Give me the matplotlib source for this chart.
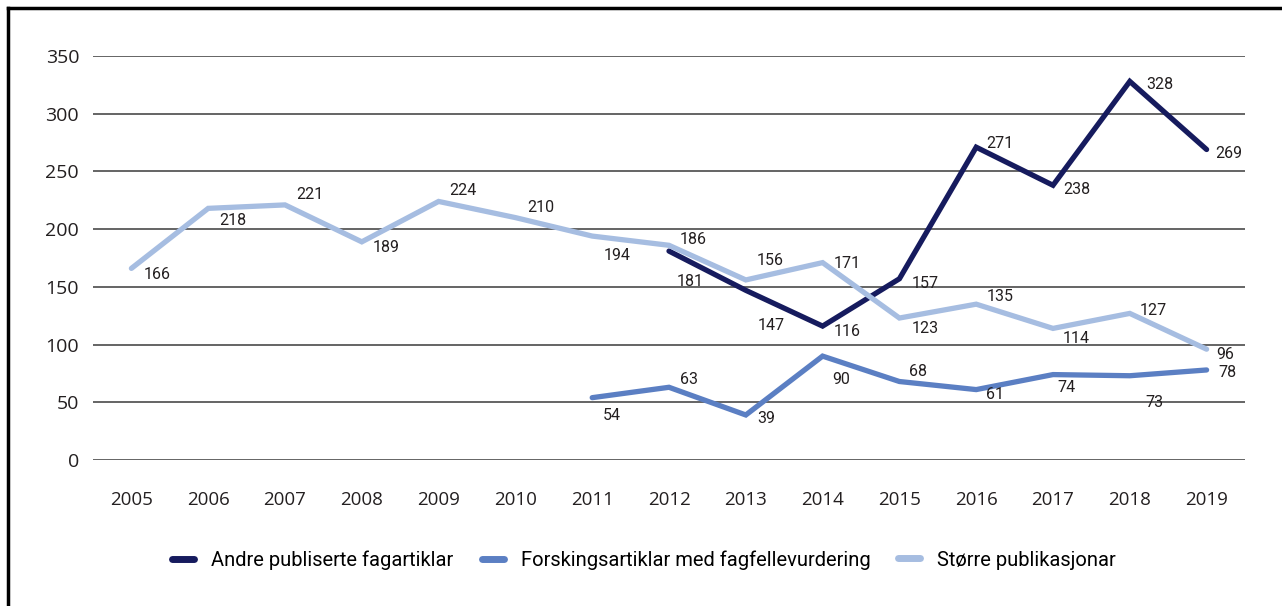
import matplotlib
matplotlib.use("Agg")
import matplotlib.pyplot as plt
from matplotlib.lines import Line2D

plt.rcParams["font.family"] = ["Open Sans", "DejaVu Sans"]

# --- data ---
years = list(range(2005, 2020))

andre_years = [2012, 2013, 2014, 2015, 2016, 2017, 2018, 2019]
andre = [181, 147, 116, 157, 271, 238, 328, 269]

forsking_years = [2011, 2012, 2013, 2014, 2015, 2016, 2017, 2018, 2019]
forsking = [54, 63, 39, 90, 68, 61, 74, 73, 78]

storre_years = years
storre = [166, 218, 221, 189, 224, 210, 194, 186, 156, 171, 123, 135, 114, 127, 96]

labels = ["Andre publiserte fagartiklar",
          "Forskingsartiklar med fagfellevurdering",
          "Større publikasjonar"]

# label offsets (pixels, dx, dy with +dy = up) -- purely placement
andre_off = [(8, -30), (12, -35), (11, -5), (12, -5), (10, 4), (10, -4), (16, -3), (9, -4)]
forsking_off = [(11, -18), (11, 8), (11, -4), (10, -23), (10, 10), (10, -5), (4, -13), (16, -27), (12, -3)]
storre_off = [(12, -6), (11, -12), (11, 10), (11, -6), (11, 11), (12, 10), (11, -19),
              (11, 6), (11, 19), (11, -1), (12, -10), (10, 8), (10, -10), (10, 3), (10, -5)]

DARK = "#161b5e"
MID = "#5b7fc3"
LIGHT = "#a6bde1"
GRID = "#4a4a4a"
INK = "#231f20"

W, H = 1282, 606
fig = plt.figure(figsize=(W / 100, H / 100), dpi=100)
ax = fig.add_axes([93 / W, 1 - 460 / H, (1245 - 93) / W, (460 - 56) / H])

ax.set_xlim(2004.5, 2019.5)
ax.set_ylim(0, 350)
ax.set_yticks(range(0, 351, 50))
ax.set_xticks(years)
ax.grid(axis="y", color=GRID, lw=1.2)
ax.set_axisbelow(True)
for s in ax.spines.values():
    s.set_visible(False)
ax.tick_params(length=0, colors=INK)
ax.tick_params(axis="x", pad=22, labelsize=13.5)
ax.tick_params(axis="y", pad=10, labelsize=14)

series = [
    (andre_years, andre, DARK, andre_off),
    (forsking_years, forsking, MID, forsking_off),
    (storre_years, storre, LIGHT, storre_off),
]
lab_font = ["Roboto", "DejaVu Sans"]
handles = []
for (xs, ys, col, offs), lab in zip(series, labels):
    ln, = ax.plot(xs, ys, color=col, lw=3.8, solid_capstyle="round",
                  solid_joinstyle="miter", label=lab, zorder=3)
    handles.append(ln)
    for x, y, (dx, dy) in zip(xs, ys, offs):
        ax.annotate(str(y), (x, y), xytext=(dx, dy), textcoords="offset pixels",
                    ha="left", va="center", fontsize=11.5, color=INK,
                    family=lab_font, zorder=4)

# legend entries placed one by one to match the reference spacing
legend_x = [172, 482, 898]
for h, lx in zip(handles, legend_x):
    leg = fig.legend(handles=[h], loc="center left",
                     bbox_to_anchor=(lx / W, 1 - 560 / H), frameon=False,
                     borderpad=0, borderaxespad=0, handlelength=1.1,
                     handletextpad=0.85, prop={"family": lab_font, "size": 14.5})
    for hl in leg.get_lines():
        hl.set_linewidth(5)
        hl.set_solid_capstyle("round")

# frame lines (top and left visible in the reference)
fig.add_artist(Line2D([8 / W, 1], [1 - 8 / H, 1 - 8 / H], color="black", lw=2.5,
                      transform=fig.transFigure))
fig.add_artist(Line2D([8 / W, 8 / W], [0, 1 - 8 / H], color="black", lw=2.5,
                      transform=fig.transFigure))

fig.savefig("out.png", dpi=100, facecolor="white")
